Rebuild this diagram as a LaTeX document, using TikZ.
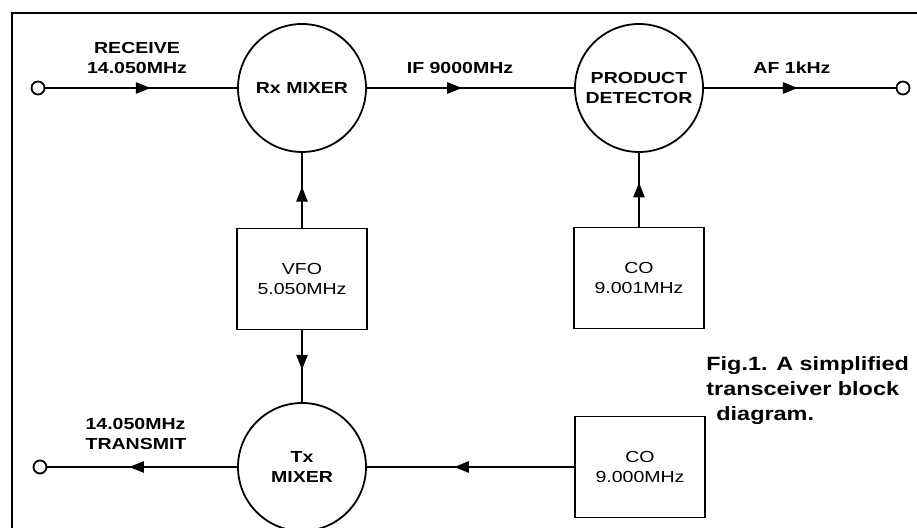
\documentclass[tikz,border=0pt]{standalone}
\usepackage{fontspec}
\setmainfont{Liberation Sans}[FakeStretch=1.22]
\usepackage{tikz}
\usetikzlibrary{arrows.meta,decorations.markings}

\begin{document}
\begin{tikzpicture}[x=0.5pt,y=-0.5pt,
        font=\fontsize{8}{10}\selectfont,
        mixer/.style={circle, draw, line width=0.9pt, minimum size=64pt, inner sep=0pt, align=center, font=\fontsize{8}{9.6}\selectfont\bfseries},
        osc/.style={draw, line width=0.8pt, minimum width=65pt, minimum height=50.5pt, inner sep=0pt, align=center, font=\fontsize{8}{10}\selectfont},
        term/.style={circle, draw, fill=white, line width=0.9pt, minimum size=6.5pt, inner sep=0pt},
        lbl/.style={align=center, font=\fontsize{8}{10}\selectfont\bfseries},
        wire/.style={line width=1.3pt},
        flow/.style={wire, postaction={decorate}, decoration={markings, mark=at position #1 with {\arrow{Triangle[length=7.5pt,width=5.5pt]}}}}]
    \useasboundingbox (0,0) rectangle (917,528);
    % frame
    \draw[line width=1pt] (12,528) -- (12,13) -- (917,13);
    % blocks
    \node[mixer] (rx) at (302,88) {Rx MIXER};
    \node[mixer] (pd) at (639,88) {PRODUCT\\DETECTOR};
    \node[mixer] (tx) at (302,467) {Tx\\MIXER};
    \node[osc] (vfo) at (302,279) {VFO\\5.050MHz};
    \node[osc] (co1) at (639,278) {CO\\9.001MHz};
    \node[osc] (co2) at (640,467) {CO\\9.000MHz};
    % terminals
    \node[term] (in) at (38,88) {};
    \node[term] (out) at (903,88) {};
    \node[term] (txo) at (40,467) {};
    % connectors
    \draw[flow=0.55] (in) -- (rx);
    \draw[flow=0.46] (rx) -- (pd);
    \draw[flow=0.49] (pd) -- (out);
    \draw[flow=0.55] (vfo) -- (rx);
    \draw[flow=0.6] (co1) -- (pd);
    \draw[flow=0.55] (vfo) -- (tx);
    \draw[flow=0.58] (co2) -- (tx);
    \draw[flow=0.57] (tx) -- (txo);
    % labels
    \node[lbl] (rxlab) at (137,58) {RECEIVE\\14.050MHz};
    \node[lbl] (iflab) at (460,68) {IF 9000MHz};
    \node[lbl] (aflab) at (792,68) {AF 1kHz};
    \node[lbl, align=left] (txlab) at (136,434) {14.050MHz\\TRANSMIT};
    \node[align=left, anchor=north west, inner sep=0pt, font=\fontsize{9.6}{12.5}\selectfont\bfseries] (cap) at (706,356)
        {Fig.1. A simplified\\transceiver block\\\hspace*{5pt}diagram.};
\end{tikzpicture}
\end{document}
